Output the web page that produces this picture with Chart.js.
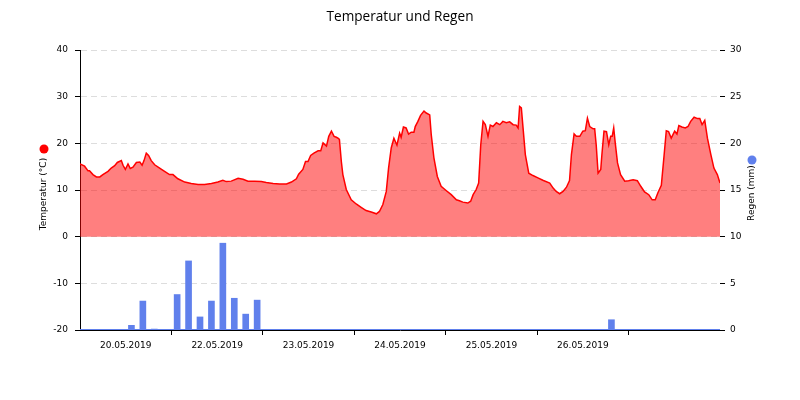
<!DOCTYPE html>
<html><head><meta charset="utf-8">
<script src="https://cdn.jsdelivr.net/npm/chart.js@4/dist/chart.umd.min.js"></script>
<style>html,body{margin:0;padding:0;background:#fff}#wrap{width:800px;height:400px}</style>
</head><body><div id="wrap"><canvas id="c" width="800" height="400"></canvas></div>
<script>
const chartTitle = 'Temperatur und Regen';
const tempAxisTitle = 'Temperatur (°C)';
const rainAxisTitle = 'Regen (mm)';
const tempHours = [0,1.2,2.1,2.5,3.4,4.3,5.2,6.0,7.35,8.2,9.1,9.8,10.85,11.3,11.9,12.6,13.2,13.9,14.8,15.7,16.3,16.8,17.4,18.0,18.7,19.6,20.9,22.2,23.5,24.4,25.7,27.5,29.2,31.0,32.7,34.5,36.2,37.5,38.4,39.7,41.5,42.8,44.1,45.85,47.6,48.9,50.7,52.4,54.2,55.5,56.8,57.4,58.5,59.2,59.85,60.55,61.4,62.5,63.2,63.8,64.7,65.3,66.0,66.7,67.3,67.9,68.1,68.6,69.0,69.9,71.2,72.5,73.8,75.1,76.45,77.8,78.6,79.5,80.4,81.0,81.7,82.4,83.2,83.9,84.3,84.9,85.6,86.25,86.95,87.65,88.0,88.7,89.4,90.3,90.9,91.8,92.2,92.9,93.8,94.8,96.1,97.45,98.8,99.6,100.5,101.8,102.55,103.2,104.0,104.65,105.2,105.8,106.4,107.1,107.7,108.4,109.3,110.2,111.0,111.9,112.8,113.7,114.5,115.0,115.4,115.85,116.3,116.9,117.8,118.9,120.2,121.5,123.3,124.2,125.0,125.9,126.8,127.7,128.5,129.0,129.7,130.3,131.2,132.0,132.65,133.2,133.8,134.7,135.1,135.5,136.0,136.7,137.0,137.55,138.2,138.8,139.3,139.7,140.1,140.5,141.1,141.9,143.0,144.0,145.2,146.3,147.2,148.2,149.3,150.2,151.0,151.7,152.6,153.3,153.9,154.5,155.2,156.1,156.7,157.2,158.0,158.9,159.6,160.3,161.2,162.1,162.7,163.3,164.0,164.7,165.6,166.4,167.3,168.0];
const tempValues = [15.6,15.1,14.1,14.1,13.3,12.8,12.8,13.3,14.0,14.7,15.2,15.9,16.3,15.3,14.4,15.6,14.6,14.9,15.9,16.0,15.3,16.3,17.9,17.4,16.3,15.4,14.7,14.0,13.3,13.3,12.4,11.7,11.4,11.2,11.2,11.4,11.7,12.1,11.8,11.9,12.5,12.3,11.9,11.9,11.8,11.6,11.4,11.3,11.3,11.7,12.4,13.4,14.4,16.1,16.1,17.4,17.9,18.4,18.4,20.1,19.4,21.5,22.6,21.5,21.3,21.0,20.8,16.1,13.3,10.1,7.9,7.0,6.3,5.6,5.3,4.9,5.4,6.9,9.7,14.7,19.0,21.1,19.6,22.2,21.3,23.5,23.3,22.0,22.4,22.4,23.6,24.7,26.0,26.9,26.5,26.1,21.9,16.9,12.9,10.8,9.9,9.0,7.9,7.7,7.4,7.2,7.6,9.0,10.1,11.5,19.7,24.7,24.0,21.5,23.9,23.6,24.4,24.0,24.7,24.4,24.6,24.0,23.9,23.3,27.9,27.6,23.3,17.6,13.6,13.1,12.6,12.1,11.5,10.4,9.7,9.2,9.7,10.6,12.0,17.6,22.0,21.5,21.5,22.6,22.7,25.4,23.6,23.1,23.1,19.7,13.6,14.4,17.6,22.6,22.5,19.7,21.5,21.5,23.3,20.1,15.8,13.3,11.9,12.0,12.2,12.0,10.8,9.6,9.0,7.9,7.9,9.4,11.0,17.2,22.7,22.5,21.1,22.6,22.0,23.8,23.5,23.3,23.6,24.7,25.6,25.3,25.3,24.0,24.9,21.1,17.6,14.7,13.3,11.5];
const rainHours = [13.5,16.5,19.5,25.5,28.5,31.5,34.5,37.5,40.5,43.5,46.5,139.5];
const rainValues = [0.5,3.1,0.1,3.8,7.4,1.4,3.1,9.3,3.4,1.7,3.2,1.1];
const dayTickHours = [12,36,60,84,108,132,156];
const dayLabels = ['20.05.2019','22.05.2019','23.05.2019','24.05.2019','25.05.2019','26.05.2019',''];
const hourRange = [0,168];
const tempRange = [-20,40,10];
const rainRange = [0,30,5];

const RED = '#ff0000';
const BLUE = 'rgb(96,128,236)';
const tickFont = {family:'DejaVu Sans', size:9};

const tempData = tempHours.map((h,i)=>({x:h,y:tempValues[i]}));
const rainData = rainHours.map((h,i)=>({x:h,y:rainValues[i]}));

const extras = {
  id:'extras',
  afterDatasetsDraw(chart){
    const ctx = chart.ctx, a = chart.chartArea;
    const y0 = Math.round(chart.scales.y2.getPixelForValue(0)) - 0.5;
    ctx.save();
    ctx.strokeStyle = BLUE; ctx.lineWidth = 1;
    ctx.beginPath(); ctx.moveTo(a.left, y0); ctx.lineTo(a.right, y0); ctx.stroke();
    ctx.restore();
  },
  afterDraw(chart){
    const ctx = chart.ctx, a = chart.chartArea;
    const cy = (a.top + a.bottom)/2;
    ctx.save();
    ctx.font = '9px "DejaVu Sans"';
    ctx.fillStyle = '#000';
    ctx.textAlign = 'center'; ctx.textBaseline = 'middle';
    ctx.save(); ctx.translate(a.left-36, cy+4); ctx.rotate(-Math.PI/2); ctx.fillText(tempAxisTitle,0,0); ctx.restore();
    ctx.fillStyle = RED; ctx.beginPath(); ctx.arc(a.left-36, cy-41, 4.5, 0, Math.PI*2); ctx.fill();
    ctx.fillStyle = '#000';
    ctx.save(); ctx.translate(a.right+32, cy+3); ctx.rotate(-Math.PI/2); ctx.fillText(rainAxisTitle,0,0); ctx.restore();
    ctx.fillStyle = BLUE; ctx.beginPath(); ctx.arc(a.right+32, cy-30, 4.5, 0, Math.PI*2); ctx.fill();
    ctx.restore();
  }
};

new Chart(document.getElementById('c'), {
  type:'line',
  data:{datasets:[
    {type:'line', label:'Temperatur', data:tempData, yAxisID:'y', xAxisID:'x',
     borderColor:RED, borderWidth:1.5, backgroundColor:'rgba(255,0,0,0.5)', fill:'origin',
     pointRadius:0, tension:0},
    {type:'bar', label:'Regen', data:rainData, yAxisID:'y2', xAxisID:'x',
     backgroundColor:BLUE, borderWidth:0, barThickness:6}
  ]},
  options:{
    responsive:false, animation:false, devicePixelRatio:1,
    layout:{padding:0},
    plugins:{
      legend:{display:false}, tooltip:{enabled:false},
      title:{display:true, text:chartTitle, color:'#000',
        font:{family:'Open Sans', size:13.6, weight:'normal', lineHeight:1.2},
        padding:{top:9,bottom:24.68}}
    },
    scales:{
      x:{type:'linear', position:'bottom', min:hourRange[0], max:hourRange[1], offset:false,
        afterBuildTicks:s=>{s.ticks = dayTickHours.map(v=>({value:v}));},
        ticks:{autoSkip:false, maxRotation:0, minRotation:0, padding:5, color:'#000', font:tickFont,
          callback:(v,i)=>dayLabels[i]},
        grid:{offset:true, drawOnChartArea:false, drawTicks:true, tickLength:5,
          tickColor:c=>(c.type!=='tick'||c.index===0)?'rgba(0,0,0,0)':'#000'},
        border:{display:true, color:'#000', width:1},
        afterFit:s=>{s.height=70;}
      },
      y:{type:'linear', position:'left', min:tempRange[0], max:tempRange[1],
        ticks:{stepSize:tempRange[2], padding:7, color:'#000', font:tickFont},
        grid:{color:'#dddddd', lineWidth:1, tickLength:5, tickColor:'#000'},
        border:{display:true, color:'#000', width:1, dash:[6,4]},
        afterFit:s=>{s.width=80;}
      },
      y2:{type:'linear', position:'right', min:rainRange[0], max:rainRange[1],
        ticks:{stepSize:rainRange[2], padding:5, color:'#000', font:tickFont},
        grid:{drawOnChartArea:false, tickLength:5, tickColor:'#000'},
        border:{display:false},
        afterFit:s=>{s.width=80;}
      }
    }
  },
  plugins:[extras]
});
</script></body></html>
